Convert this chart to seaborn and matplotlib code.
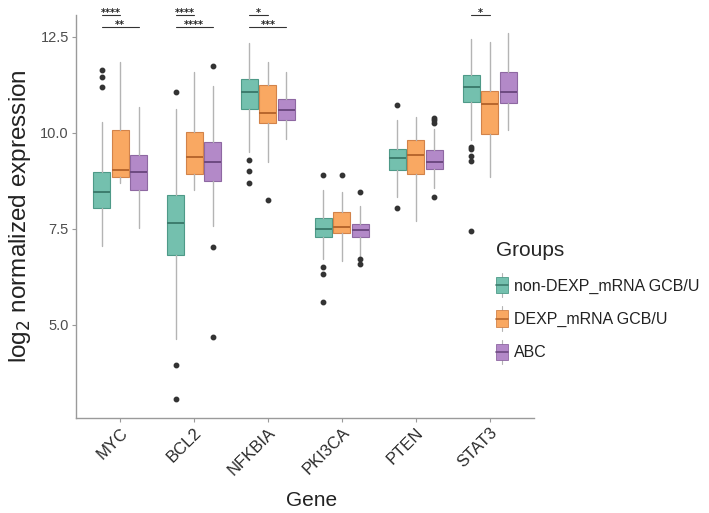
import matplotlib
matplotlib.use("Agg")
import matplotlib.pyplot as plt
import seaborn as sns
from matplotlib.legend_handler import HandlerBase
from matplotlib.patches import Rectangle
from matplotlib.lines import Line2D

# ---- data (summary statistics per gene and group) ----
genes = ["MYC", "BCL2", "NFKBIA", "PKI3CA", "PTEN", "STAT3"]
groups = ["non-DEXP_mRNA GCB/U", "DEXP_mRNA GCB/U", "ABC"]

nondexp_lo = [7.05, 4.62, 9.51, 6.70, 8.32, 9.82]
nondexp_q1 = [8.04, 6.83, 10.61, 7.28, 9.04, 10.80]
nondexp_med = [8.47, 7.64, 11.05, 7.50, 9.34, 11.19]
nondexp_q3 = [8.99, 8.39, 11.39, 7.79, 9.58, 11.51]
nondexp_hi = [10.27, 10.61, 12.33, 8.52, 10.32, 12.43]
nondexp_out = [[11.63, 11.46, 11.20], [11.05, 3.95, 3.08], [9.30, 9.01, 8.69],
               [8.91, 6.50, 6.31, 5.59], [10.73, 8.04], [9.64, 9.57, 9.40, 9.26, 7.45]]

dexp_lo = [8.70, 8.52, 9.25, 6.66, 7.70, 8.84]
dexp_q1 = [8.85, 8.93, 10.25, 7.38, 8.93, 9.97]
dexp_med = [9.02, 9.38, 10.51, 7.55, 9.42, 10.76]
dexp_q3 = [10.06, 10.03, 11.25, 7.93, 9.82, 11.10]
dexp_hi = [11.83, 11.59, 11.83, 8.47, 10.42, 12.37]
dexp_out = [[], [], [8.26], [8.91], [], []]

abc_lo = [7.52, 7.57, 9.83, 6.79, 8.56, 10.08]
abc_q1 = [8.50, 8.75, 10.32, 7.28, 9.06, 10.77]
abc_med = [8.99, 9.24, 10.60, 7.48, 9.24, 11.06]
abc_q3 = [9.43, 9.76, 10.87, 7.63, 9.54, 11.59]
abc_hi = [10.68, 11.22, 11.59, 8.10, 10.09, 12.61]
abc_out = [[], [11.74, 7.02, 4.69], [], [8.45, 6.72, 6.57], [10.38, 10.32, 10.26, 8.32], []]

# significance brackets: gene, first group, second group, label
sig_gene = ["MYC", "MYC", "BCL2", "BCL2", "NFKBIA", "NFKBIA", "STAT3"]
sig_from = [0, 0, 0, 0, 0, 0, 0]
sig_to = [1, 2, 1, 2, 1, 2, 1]
sig_label = ["****", "**", "****", "****", "*", "***", "*"]
sig_y = [13.07, 12.76, 13.07, 12.76, 13.07, 12.76, 13.07]

# ---- styling ----
sns.set_theme(style="white")
plt.rcParams["font.family"] = ["Liberation Sans", "DejaVu Sans"]

fills = ["#74C0AE", "#F9A862", "#B389C8"]
edges = ["#4E9A88", "#D2834A", "#8E68A2"]
medians = ["#3D7D6E", "#B8672D", "#6E4A82"]
whisker_col = "#B4B4B4"

group_stats = [
    (nondexp_lo, nondexp_q1, nondexp_med, nondexp_q3, nondexp_hi, nondexp_out),
    (dexp_lo, dexp_q1, dexp_med, dexp_q3, dexp_hi, dexp_out),
    (abc_lo, abc_q1, abc_med, abc_q3, abc_hi, abc_out),
]

fig = plt.figure(figsize=(7.09, 5.13), dpi=100)
ax = fig.add_axes([0.107, 0.185, 0.646, 0.786])

offsets = [-0.25, 0.0, 0.25]
box_w = 0.23
for g, (lo, q1, med, q3, hi, out) in enumerate(group_stats):
    stats = []
    for i in range(len(genes)):
        stats.append(dict(whislo=lo[i], q1=q1[i], med=med[i], q3=q3[i],
                          whishi=hi[i], fliers=out[i]))
    ax.bxp(stats, positions=[i + offsets[g] for i in range(len(genes))],
           widths=box_w, patch_artist=True, showcaps=False,
           boxprops=dict(facecolor=fills[g], edgecolor=edges[g], linewidth=0.8),
           medianprops=dict(color=medians[g], linewidth=1.4),
           whiskerprops=dict(color=whisker_col, linewidth=1.0),
           flierprops=dict(marker="o", markersize=3.2, markerfacecolor="#333333",
                           markeredgecolor="#333333"),
           manage_ticks=False, zorder=2)

# significance brackets
for gname, a, b, lab, y in zip(sig_gene, sig_from, sig_to, sig_label, sig_y):
    i = genes.index(gname)
    x0, x1 = i + offsets[a], i + offsets[b]
    ax.plot([x0, x1], [y, y], color="#333333", lw=0.8, clip_on=False)
    ax.text((x0 + x1) / 2, y - 0.04, lab, ha="center", va="baseline",
            fontsize=7, color="#222222", family="DejaVu Sans",
            fontweight="bold", clip_on=False)

ax.set_xlim(-0.6, len(genes) - 0.4)
ax.set_ylim(2.57, 13.07)
ax.set_xticks(range(len(genes)))
ax.set_xticklabels(genes, rotation=45, ha="right", va="top",
                   rotation_mode="anchor", fontsize=12, color="#2a2a2a")
ax.set_yticks([5.0, 7.5, 10.0, 12.5])
ax.set_yticklabels(["5.0", "7.5", "10.0", "12.5"], fontsize=10.5, color="#4d4d4d")
ax.tick_params(axis="both", which="both", length=3, width=0.8, color="#9a9a9a",
               direction="out", bottom=True, left=True, pad=2)
ax.set_xlabel("Gene", fontsize=15, color="#222222", labelpad=14)
ax.xaxis.set_label_coords(0.515, -0.18)
ax.set_ylabel(r"log$_2$ normalized expression", fontsize=17.5, color="#222222",
              labelpad=5)
for side in ("top", "right"):
    ax.spines[side].set_visible(False)
for side in ("left", "bottom"):
    ax.spines[side].set_color("#9a9a9a")
    ax.spines[side].set_linewidth(1.0)


class BoxKeyHandler(HandlerBase):
    def create_artists(self, legend, orig_handle, xdescent, ydescent,
                       width, height, fontsize, trans):
        fc, ec, mc = orig_handle
        cx = xdescent + width / 2
        wl = Line2D([cx, cx], [-ydescent - 3, -ydescent + height + 3],
                    color=whisker_col, lw=0.8, transform=trans)
        r = Rectangle((-xdescent, -ydescent), width, height, facecolor=fc,
                      edgecolor=ec, lw=0.6, transform=trans)
        ml = Line2D([-xdescent, -xdescent + width],
                    [-ydescent + height / 2, -ydescent + height / 2],
                    color=mc, lw=1.2, transform=trans)
        return [wl, r, ml]


handles = [(fills[g], edges[g], medians[g]) for g in range(3)]
leg = fig.legend(handles, groups, handler_map={tuple: BoxKeyHandler()},
                 loc="upper left", bbox_to_anchor=(0.68, 0.558),
                 title="Groups", frameon=False, fontsize=11.5,
                 title_fontsize=15, handlelength=0.75, handleheight=1.2,
                 handletextpad=0.35, labelspacing=1.05, alignment="left")
for t in leg.get_texts():
    t.set_color("#222222")

fig.savefig("out.png", dpi=100, facecolor="white")
